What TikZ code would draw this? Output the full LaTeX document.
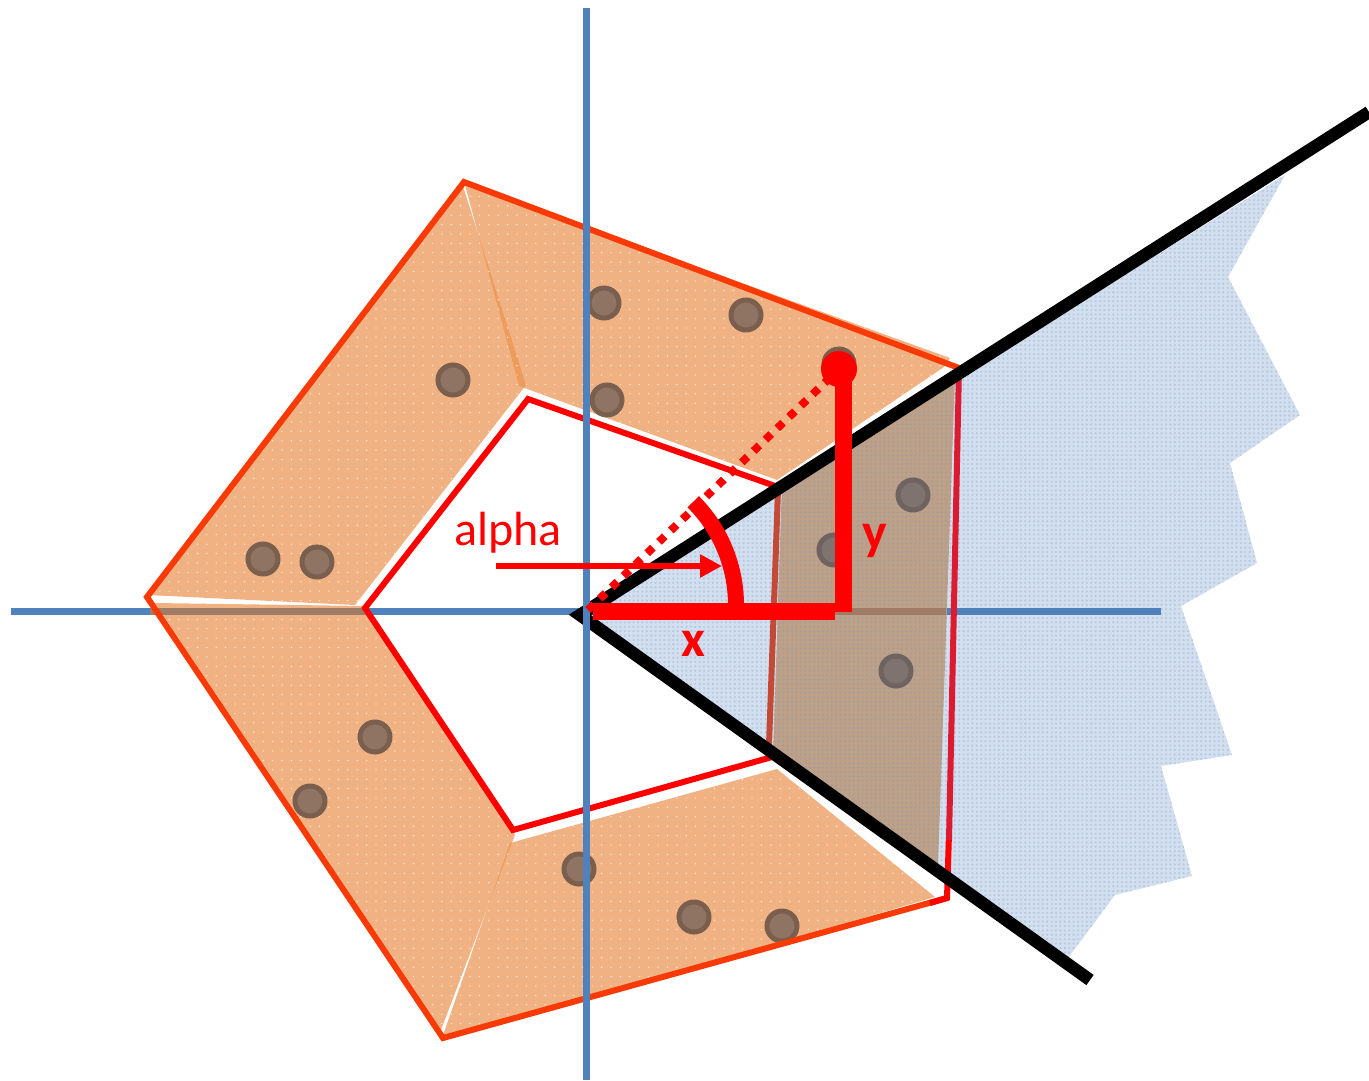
\documentclass[tikz,border=0pt]{standalone}
\usepackage{fontspec}
\setmainfont{Carlito}
\usetikzlibrary{arrows.meta,patterns.meta}
\definecolor{axisblue}{HTML}{4F81BD}
\definecolor{wedgeblue}{HTML}{D3DFEE}
\definecolor{wedgedot}{HTML}{B4C9E2}
\definecolor{ringorange}{HTML}{EB924E}
\definecolor{overlapfill}{HTML}{BDA088}
\definecolor{overlapdot}{HTML}{A29C9C}
\definecolor{edgeorange}{HTML}{F93A06}
\definecolor{edgecrimson}{HTML}{DC1A30}
\definecolor{edgebrown}{HTML}{C44A38}
\definecolor{pearl}{HTML}{8F7363}
\definecolor{pearlring}{HTML}{7A5E4E}
\definecolor{pearlb}{HTML}{7F7370}
\definecolor{pearlbring}{HTML}{6E6360}
\definecolor{axisunder}{HTML}{A07B66}
\tikzset{
  wedgefill/.style={fill=wedgeblue,draw=none},
  wedgetex/.style={draw=none,pattern={Dots[distance=4.4pt,radius=1.2pt]},pattern color=wedgedot},
  ringpiece/.style={fill=ringorange,fill opacity=.7,draw=none},
  ringtex/.style={draw=none,pattern={Dots[distance=9.4pt,radius=.7pt]},pattern color=white!85!ringorange},
  axis/.style={axisblue,line width=7pt},
  outeredge/.style={edgeorange,line width=6pt,line join=miter},
  inneredge/.style={red,line width=6pt,line join=miter},
  pearlA/.style={circle,fill=pearl,draw=pearlring,line width=5pt,minimum size=30pt,inner sep=0pt},
  pearlB/.style={circle,fill=pearlb,draw=pearlbring,line width=5pt,minimum size=30pt,inner sep=0pt},
  ray/.style={black,line width=12.5pt,line join=miter},
  measure/.style={red,line width=17pt},
  lab/.style={red,font=\fontsize{48}{48}\selectfont,inner sep=0pt},
  labb/.style={red,font=\fontsize{52}{52}\selectfont\bfseries,inner sep=0pt}
}
\begin{document}
\begin{tikzpicture}[x=1pt,y=-1pt]
\useasboundingbox (0,0) rectangle (1369,1080);
% blue wedge
\def\wedgepath{(580,615) -- (1285,175) -- (1228,277) -- (1300,415) -- (1230,463) -- (1257,563) -- (1181,606) -- (1232,755) -- (1161,766) -- (1192,876) -- (1115,895) -- (1068,958) -- cycle}
\fill[wedgefill] \wedgepath;
\path[wedgetex] \wedgepath;
% horizontal axis
\draw[axis] (11,611) -- (1161,611);
% ring pieces
\def\pa{(462,183) -- (147,595) -- (355,605) -- (526,385) -- cycle}
\def\pb{(464.5,183) -- (950,358) -- (944,367) -- (777,480) -- (519,386) -- cycle}
\def\pc{(155,603) -- (365,606) -- (515,835) -- (441,1030) -- cycle}
\def\pd{(510,843) -- (777,769) -- (935,897) -- (441,1041) -- cycle}
\foreach \p in {\pa,\pb,\pc,\pd}{\fill[ringpiece] \p; \path[ringtex] \p;}
\draw[axisunder,line width=7pt] (150,611) -- (365,611);
% overlap
\def\po{(782,483) -- (955,374) -- (938,866) -- (773,756) -- cycle}
\fill[overlapfill] \po;
\path[draw=none,pattern={Dots[distance=4.4pt,radius=1pt]},pattern color=overlapdot] \po;
\draw[axisunder,line width=7pt] (773,611) -- (946,611);
% pearls
\node[pearlA] (d1) at (604,303) {};
\node[pearlA] (d2) at (746,315) {};
\node[pearlA] (d3) at (839,364) {};
\node[pearlA] (d4) at (607,400) {};
\node[pearlA] (d5) at (453,380) {};
\node[pearlA] (d6) at (263,559) {};
\node[pearlA] (d7) at (317,562) {};
\node[pearlA] (d8) at (375,737) {};
\node[pearlA] (d9) at (310,801) {};
\node[pearlA] (d10) at (579,869) {};
\node[pearlA] (d11) at (694,917) {};
\node[pearlA] (d12) at (782,926) {};
\node[pearlB] (d13) at (913,495) {};
\node[pearlB] (d14) at (834,550) {};
\node[pearlB] (d15) at (896,671) {};
% pentagon outlines
\draw[outeredge] (959,368) -- (464,182) -- (147,597) -- (443,1038) -- (947,898);
\draw[edgecrimson,line width=6pt] (959,368) -- (949,840);
\draw[red,line width=6pt,line join=miter] (948.8,840) -- (947,898) -- (930,903);
\draw[inneredge] (778,487) -- (528,399) -- (365,608) -- (513,830) -- (772,757);
\draw[edgebrown,line width=6pt] (778,490) -- (769,745);
% black rays
\draw[ray] (1369,112) -- (580,615) -- (1090,980);
% vertical axis
\draw[axis] (586,8) -- (586,1080);
% measurements
\draw[red,line width=8pt,dash pattern=on 8pt off 8.4pt] (588,610) -- (839,369);
\draw[measure] (593,611.5) -- (835,611.5);
\draw[measure] (843.5,612) -- (843.5,368);
\fill[red] (839,369) circle[radius=18pt];
\draw[red,line width=16pt] (736,605) arc[start angle=0,end angle=45,radius=146pt];
\draw[red,line width=6.5pt,-{Triangle[length=22pt,width=22pt]}] (496,566) -- (722,566);
% labels
\node[lab] (alpha) at (508,533) {alpha};
\node[labb] (xl) at (693,644) {x};
\node[labb] (yl) at (875,541) {y};
\end{tikzpicture}
\end{document}
